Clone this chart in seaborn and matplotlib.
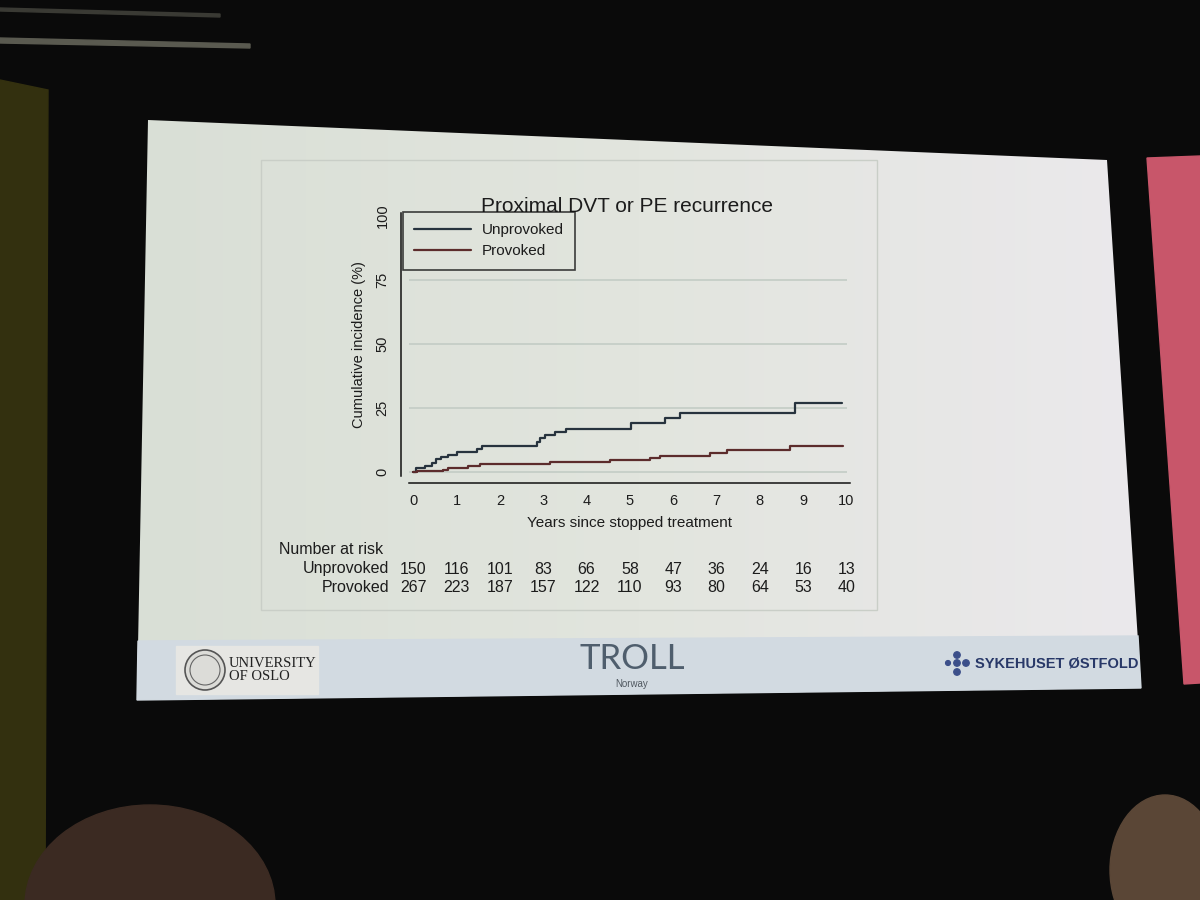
import numpy as np
import pandas as pd
import matplotlib
matplotlib.use("Agg")
import matplotlib.pyplot as plt
import seaborn as sns
from matplotlib.patches import Polygon, Rectangle, Ellipse, Circle
from matplotlib.lines import Line2D
from matplotlib.colors import LinearSegmentedColormap
from matplotlib.transforms import blended_transform_factory

# ---------------- data ----------------
title = "Proximal DVT or PE recurrence"
groups = ["Unprovoked", "Provoked"]
unprov_t = [0, 0.06, 0.27, 0.42, 0.52, 0.65, 0.80, 1.00, 1.48, 1.58, 2.85, 2.93,
            3.04, 3.27, 3.52, 5.02, 5.80, 6.16, 8.80, 9.90]
unprov_v = [0, 1.5, 2.3, 3.6, 5.1, 5.9, 6.8, 7.8, 8.8, 10.2, 11.6, 13.3,
            14.4, 15.6, 16.7, 19.3, 21.2, 23.0, 26.9, 26.9]
prov_t = [0, 0.08, 0.69, 0.80, 1.27, 1.54, 3.15, 4.53, 5.47, 5.70, 6.85, 7.24, 8.70, 9.92]
prov_v = [0, 0.4, 0.9, 1.6, 2.4, 3.2, 4.0, 4.8, 5.6, 6.2, 7.5, 8.7, 10.2, 10.2]
risk_years = [0, 1, 2, 3, 4, 5, 6, 7, 8, 9, 10]
risk_unprov = [150, 116, 101, 83, 66, 58, 47, 36, 24, 16, 13]
risk_prov = [267, 223, 187, 157, 122, 110, 93, 80, 64, 53, 40]
y_ticks = [0, 25, 50, 75, 100]
grid_levels = [0, 25, 50, 75]

df = pd.concat([
    pd.DataFrame({"t": unprov_t, "v": unprov_v, "group": groups[0]}),
    pd.DataFrame({"t": prov_t, "v": prov_v, "group": groups[1]}),
])

# ---------------- styling ----------------
sns.set_theme(style="white")
plt.rcParams["font.family"] = ["Liberation Sans", "DejaVu Sans"]
col_un = "#27333e"
col_pr = "#5c2c2c"
txt = "#1c1c1c"

W, H = 1200, 900
fig = plt.figure(figsize=(12, 9), dpi=100)
fig.patch.set_facecolor("#080808")

def fx(x):
    return x / W

def fy(y):
    return 1 - y / H

# ---------------- background: stage + slide ----------------
bg = fig.add_axes([0, 0, 1, 1], zorder=0)
bg.set_xlim(0, W)
bg.set_ylim(H, 0)
bg.axis("off")
bg.add_patch(Rectangle((0, 0), W, H, color="#0a0a0a"))
bg.add_patch(Polygon([(0, 80), (48, 90), (45, 900), (0, 900)], color="#33300f"))
bg.add_patch(Polygon([(0, 38), (250, 44), (250, 48), (0, 43)], color="#5a5a50"))
bg.add_patch(Polygon([(0, 8), (220, 14), (220, 17), (0, 11)], color="#3a3a34"))
slide = Polygon([(148, 120), (1107, 160), (1141, 688), (137, 700)], closed=True,
                facecolor="none", edgecolor="none")
bg.add_patch(slide)
cmap = LinearSegmentedColormap.from_list("sl", ["#d9dfd6", "#e2e5de", "#ebe9ec"])
im = bg.imshow(np.linspace(0, 1, 256)[None, :], extent=[137, 1141, 700, 120],
               aspect="auto", cmap=cmap, zorder=1)
im.set_clip_path(slide)
# red neighbouring screen
bg.add_patch(Polygon([(1147, 158), (1200, 156), (1200, 683), (1184, 684)], color="#c8566a", zorder=1))
# footer band
bg.add_patch(Polygon([(138, 641), (1138, 636), (1141, 688), (137, 700)], color="#d2dae1", zorder=2))
bg.add_patch(Rectangle((176, 646), 142, 48, color="#e6e6e3", zorder=3))
bg.add_patch(Circle((205, 670), 20, facecolor="#dcdcd8", edgecolor="#555555", lw=1.2, zorder=4))
bg.add_patch(Circle((205, 670), 15, facecolor="none", edgecolor="#666666", lw=0.8, zorder=4))
bg.text(229, 670, "UNIVERSITY\nOF OSLO", family=["Liberation Serif", "DejaVu Serif"],
        fontsize=10.5, color="#222222", va="center", ha="left", linespacing=1.05, zorder=5)
bg.text(632, 659, "TROLL", fontsize=25, color="#4f5e6d", ha="center", va="center",
        family=["Lato", "DejaVu Sans"], zorder=5)
bg.text(632, 684, "Norway", fontsize=7, color="#505860", ha="center", va="center", zorder=5)
for (px, py, r) in [(957, 655, 3.2), (948, 663, 2.4), (957, 663, 3.2), (966, 663, 3.2), (957, 672, 3.2)]:
    bg.add_patch(Circle((px, py), r, color="#3c4f8a", zorder=5))
bg.text(975, 663, "SYKEHUSET ØSTFOLD", fontsize=10.5, color="#283868", ha="left",
        va="center", fontweight="bold", zorder=5)
# heads in the audience
bg.add_patch(Ellipse((150, 905), 250, 200, color="#3b2a22", zorder=2))
bg.add_patch(Ellipse((1165, 870), 110, 150, color="#5a4636", zorder=2))
# stata graph region border
bg.add_patch(Rectangle((261, 160), 616, 450, facecolor="none", edgecolor="#c9cec7", lw=1.0, zorder=3))

# ---------------- chart ----------------
ax_l, ax_r, ax_t, ax_b = 409, 850, 213, 476
ax = fig.add_axes([fx(ax_l), fy(ax_b), (ax_r - ax_l) / W, (ax_b - ax_t) / H], zorder=5)
ax.patch.set_alpha(0)
ax.set_xlim(-0.1, 10.08)
ax.set_ylim(-1.56, 101.2)

ax.hlines(grid_levels, -0.15, 10.0, color="#c3ccc5", lw=1.2, zorder=0)

sns.lineplot(data=df, x="t", y="v", hue="group", hue_order=groups,
             palette=[col_un, col_pr], drawstyle="steps-post", estimator=None,
             legend=False, lw=1.6, ax=ax, zorder=3)

ax.set_xticks(risk_years)
ax.set_yticks(y_ticks)
sns.despine(ax=ax, offset={"left": 6, "bottom": 5})
for s in ["left", "bottom"]:
    ax.spines[s].set_color("#111111")
    ax.spines[s].set_linewidth(1.1)
ax.tick_params(axis="both", direction="out", length=5, width=1.1, color="#111111",
               labelsize=10.5, labelcolor=txt, pad=3)
ax.tick_params(axis="y", labelrotation=90)
ax.set_xticklabels([str(v) for v in risk_years])
ax.set_yticklabels([str(v) for v in y_ticks], rotation=90, va="center", ha="right")
ax.set_xlabel("Years since stopped treatment", fontsize=11, color=txt, labelpad=6)
ax.set_ylabel("Cumulative incidence (%)", fontsize=10.5, color=txt, labelpad=7)

fig.text(fx(627), fy(206), title, fontsize=15, color=txt, ha="center", va="center")

handles = [Line2D([], [], color=col_un, lw=1.6), Line2D([], [], color=col_pr, lw=1.6)]
leg = ax.legend(handles, groups, loc="upper left", bbox_to_anchor=(fx(403), fy(212)),
                bbox_transform=fig.transFigure, frameon=True, fancybox=False,
                edgecolor="#111111", facecolor="none", borderaxespad=0, fontsize=11,
                handlelength=3.7, handletextpad=0.7, borderpad=0.75, labelspacing=0.45)
leg.get_frame().set_linewidth(1.2)
for t in leg.get_texts():
    t.set_color(txt)

# number at risk table
tr = blended_transform_factory(ax.transData, fig.transFigure)
fig.text(fx(279), fy(550), "Number at risk", fontsize=11.5, color=txt, ha="left", va="center")
fig.text(fx(389), fy(569), groups[0], fontsize=11.5, color=txt, ha="right", va="center")
fig.text(fx(389), fy(588), groups[1], fontsize=11.5, color=txt, ha="right", va="center")
for yr, a, b in zip(risk_years, risk_unprov, risk_prov):
    ax.text(yr, fy(569), str(a), transform=tr, fontsize=11.5, color=txt, ha="center", va="center")
    ax.text(yr, fy(588), str(b), transform=tr, fontsize=11.5, color=txt, ha="center", va="center")

fig.savefig("out.png", dpi=100, facecolor=fig.get_facecolor())
